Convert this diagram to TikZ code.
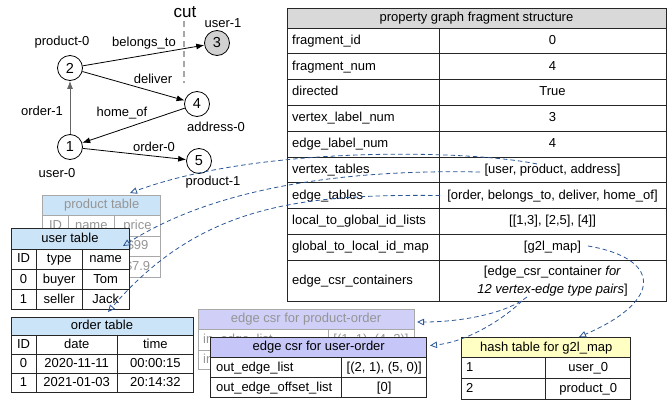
\documentclass[tikz,border=0pt]{standalone}
\usepackage{fontspec}
\setmainfont{Liberation Sans}
\usetikzlibrary{arrows.meta}

\definecolor{hdrgray}{HTML}{D9D9D9}
\definecolor{hdrblue}{HTML}{CCE4F7}
\definecolor{hdrpurple}{HTML}{C6C6F8}
\definecolor{hdrpurplefade}{HTML}{CFCFF8}
\definecolor{hdryellow}{HTML}{FFFFC4}
\definecolor{linkblue}{HTML}{2B5797}
\definecolor{fadeline}{HTML}{A8A8A8}
\definecolor{fadetext}{HTML}{959595}
\definecolor{rule}{HTML}{262626}

\tikzset{
  tbl/.style={draw=rule, line width=0.8pt},
  fadetbl/.style={draw=fadeline, line width=0.8pt},
  cell/.style={inner sep=0pt, font=\fontsize{13}{15}\selectfont, text height=9.4pt, text depth=2.6pt},
  fadecell/.style={cell, text=fadetext},
  lbl/.style={inner sep=0pt, font=\fontsize{13}{15}\selectfont},
  vtx/.style={circle, draw, line width=0.8pt, minimum size=25pt, inner sep=0pt,
              font=\fontsize{14.5}{16}\selectfont, fill=white},
  gedge/.style={-{Latex[length=8pt,width=6pt]}, line width=0.8pt},
  link/.style={draw=linkblue, dash pattern=on 4.5pt off 3pt, line width=0.8pt,
               -{Triangle[open, length=7pt, width=6.5pt]}},
}

\begin{document}
\begin{tikzpicture}[x=1pt,y=-1pt]
\useasboundingbox (0,0) rectangle (672,402);

% ---------------- property graph ----------------
\node[vtx] (v1) at (70,147) {1};
\node[vtx] (v2) at (70,68) {2};
\node[vtx, fill=black!18] (v3) at (217,43) {3};
\node[vtx] (v4) at (197,104) {4};
\node[vtx] (v5) at (199,161) {5};

\node[lbl] (lp0) at (62,42) {product-0};
\node[lbl] (lu1) at (223,23) {user-1};
\node[lbl] (la0) at (216,127) {address-0};
\node[lbl] (lu0) at (57,173) {user-0};
\node[lbl] (lp1) at (213,182) {product-1};

\draw[gedge, draw=black!60, color=black!60] (v1) -- (v2);
\draw[gedge] (v2) -- (v3);
\draw[gedge] (v2) -- (v4);
\draw[gedge] (v4) -- (v1);
\draw[gedge] (v1) -- (v5);

\node[lbl] (eo1) at (42,111) {order-1};
\node[lbl] (ebt) at (144,43) {belongs\_to};
\node[lbl] (edl) at (153,79) {deliver};
\node[lbl] (eho) at (122,113) {home\_of};
\node[lbl] (eo0) at (154,147) {order-0};

% partition cut
\node[inner sep=0pt, font=\fontsize{17}{19}\selectfont] (cutlbl) at (185,12) {cut};
\coordinate (cuttop) at (184,21);
\coordinate (cutbot) at (184,83);
\draw[black!35, line width=1.6pt, dash pattern=on 6pt off 4pt] (cuttop) -- (cutbot);

% ---------------- fragment structure table ----------------
\filldraw[fill=hdrgray, tbl] (287,8) rectangle (666,28);
\draw[tbl] (287,28) rectangle (666,301.5);
\foreach \y in {53.8,79.6,105.4,131.2,157,182.8,208.6,234.4,260.2}
  \draw[tbl] (287,\y) -- (666,\y);
\draw[tbl] (439,28) -- (439,301.5);

\node[cell] (fhead) at (476.5,18) {property graph fragment structure};
\node[cell, anchor=west] (k1) at (292,40.9) {fragment\_id};
\node[cell] (w1) at (552.5,40.9) {0};
\node[cell, anchor=west] (k2) at (292,66.7) {fragment\_num};
\node[cell] (w2) at (552.5,66.7) {4};
\node[cell, anchor=west] (k3) at (292,92.5) {directed};
\node[cell] (w3) at (552.5,92.5) {True};
\node[cell, anchor=west] (k4) at (292,118.3) {vertex\_label\_num};
\node[cell] (w4) at (552.5,118.3) {3};
\node[cell, anchor=west] (k5) at (292,144.1) {edge\_label\_num};
\node[cell] (w5) at (552.5,144.1) {4};
\node[cell, anchor=west] (k6) at (292,169.9) {vertex\_tables};
\node[cell] (w6) at (552.5,169.9) {[user, product, address]};
\node[cell, anchor=west] (k7) at (292,195.7) {edge\_tables};
\node[cell] (w7) at (552.5,195.7) {[order, belongs\_to, deliver, home\_of]};
\node[cell, anchor=west] (k8) at (292,221.5) {local\_to\_global\_id\_lists};
\node[cell] (w8) at (552.5,221.5) {[[1,3], [2,5], [4]]};
\node[cell, anchor=west] (k9) at (292,247.3) {global\_to\_local\_id\_map};
\node[cell] (w9) at (552.5,247.3) {[g2l\_map]};
\node[cell, anchor=west] (k10) at (292,280.8) {edge\_csr\_containers};
\node[inner sep=0pt, align=center, font=\fontsize{13}{17.3}\selectfont] (w10) at (552.5,281.2)
  {[edge\_csr\_container \textit{for}\\\textit{12 vertex-edge type pairs}]};

% ---------------- product table (behind) ----------------
\filldraw[fill=hdrblue, fadetbl] (42.7,195) rectangle (160.7,215);
\draw[fadetbl] (42.7,215) rectangle (160.7,277);
\draw[fadetbl] (42.7,236) -- (160.7,236);
\draw[fadetbl] (42.7,256.5) -- (160.7,256.5);
\draw[fadetbl] (68.3,215) -- (68.3,277);
\draw[fadetbl] (114.3,215) -- (114.3,277);
\node[fadecell] (pth) at (101.7,205.3) {product table};
\node[fadecell] (pt11) at (55.5,225.8) {ID};
\node[fadecell] (pt12) at (91.3,225.8) {name};
\node[fadecell] (pt13) at (137.5,225.8) {price};
\node[fadecell] (pt23) at (137.5,246.5) {\$99};
\node[fadecell] (pt33) at (137.5,267) {\$7.9};

% ---------------- user table ----------------
\filldraw[fill=white, tbl] (11,249) rectangle (129,309.5);
\filldraw[fill=hdrblue, tbl] (11,228.3) rectangle (129,249);
\draw[tbl] (11,269.5) -- (129,269.5);
\draw[tbl] (11,289.5) -- (129,289.5);
\draw[tbl] (36,249) -- (36,309.5);
\draw[tbl] (82.3,249) -- (82.3,309.5);
\node[cell] (uth) at (70,238.8) {user table};
\node[cell] (ut11) at (23.5,259.4) {ID};
\node[cell] (ut12) at (59.2,259.4) {type};
\node[cell] (ut13) at (105.7,259.4) {name};
\node[cell] (ut21) at (23.5,279.6) {0};
\node[cell] (ut22) at (59.2,279.6) {buyer};
\node[cell] (ut23) at (105.7,279.6) {Tom};
\node[cell] (ut31) at (23.5,299.6) {1};
\node[cell] (ut32) at (59.2,299.6) {seller};
\node[cell] (ut33) at (105.7,299.6) {Jack};

% ---------------- order table ----------------
\filldraw[fill=hdrblue, tbl] (11,317.3) rectangle (193.5,335.7);
\draw[tbl] (11,335.7) rectangle (193.5,392.7);
\draw[tbl] (11,354) -- (193.5,354);
\draw[tbl] (11,373.3) -- (193.5,373.3);
\draw[tbl] (36,335.7) -- (36,392.7);
\draw[tbl] (117.3,335.7) -- (117.3,392.7);
\node[cell] (oth) at (102,326.5) {order table};
\node[cell] (ot11) at (23.5,344.9) {ID};
\node[cell] (ot12) at (76.7,344.9) {date};
\node[cell] (ot13) at (155.4,344.9) {time};
\node[cell] (ot21) at (23.5,363.7) {0};
\node[cell] (ot22) at (76.7,363.7) {2020-11-11};
\node[cell] (ot23) at (155.4,363.7) {00:00:15};
\node[cell] (ot31) at (23.5,383) {1};
\node[cell] (ot32) at (76.7,383) {2021-01-03};
\node[cell] (ot33) at (155.4,383) {20:14:32};

% ---------------- edge csr for product-order (behind) ----------------
\filldraw[fill=hdrpurplefade, fadetbl] (198.3,309.3) rectangle (414,329.3);
\draw[fadetbl] (198.3,329.3) rectangle (414,369.3);
\draw[fadetbl] (198.3,350) -- (414,350);
\draw[fadetbl] (328.3,329.3) -- (328.3,369.3);
\node[fadecell] (poh) at (306,319.5) {edge csr for product-order};
\node[fadecell, anchor=west] (po11) at (203,339.8) {in\_edge\_list};
\node[fadecell] (po12) at (371,339.8) {[(1, 1), (4, 2)]};
\node[fadecell, anchor=west] (po21) at (203,359.8) {in\_edge\_offset\_list};

% ---------------- edge csr for user-order ----------------
\filldraw[fill=white, tbl] (210.7,357.3) rectangle (426.7,397.7);
\filldraw[fill=hdrpurple, tbl] (210.7,337.3) rectangle (426.7,357.3);
\draw[tbl] (210.7,377.7) -- (426.7,377.7);
\draw[tbl] (341.7,357.3) -- (341.7,397.7);
\node[cell] (uoh) at (318.7,347.5) {edge csr for user-order};
\node[cell, anchor=west] (uo11) at (216,367.7) {out\_edge\_list};
\node[cell] (uo12) at (384.2,367.7) {[(2, 1), (5, 0)]};
\node[cell, anchor=west] (uo21) at (216,387.9) {out\_edge\_offset\_list};
\node[cell] (uo22) at (384.2,387.9) {[0]};

% ---------------- hash table ----------------
\filldraw[fill=hdryellow, tbl] (461.7,337.7) rectangle (630.7,357.7);
\draw[tbl] (461.7,357.7) rectangle (630.7,399);
\draw[tbl] (461.7,378.3) -- (630.7,378.3);
\draw[tbl] (545.7,357.7) -- (545.7,399);
\node[cell] (hth) at (546.2,347.9) {hash table for g2l\_map};
\node[cell, anchor=west] (ht11) at (466,368.2) {1};
\node[cell] (ht12) at (588.2,368.2) {user\_0};
\node[cell, anchor=west] (ht21) at (466,388.8) {2};
\node[cell] (ht22) at (588.2,388.8) {product\_0};

% ---------------- references between structures ----------------
\coordinate (vtA) at (537,164);
\coordinate (vtB) at (480,172);
\coordinate (etC) at (440,195.5);
\coordinate (ecD1) at (527,297);
\coordinate (ecD2) at (522,301);
\coordinate (gmE) at (588,246);
\coordinate (ptIn) at (130,193);
\coordinate (utIn) at (123,246);
\coordinate (otIn) at (108,312);
\coordinate (poIn) at (417,322);
\coordinate (uoIn) at (430,345.5);
\coordinate (htIn) at (579,337);

\draw[link] (vtA) .. controls (470,150) and (260,145) .. (ptIn);
\draw[link] (vtB) .. controls (380,170) and (230,178) .. (utIn);
\draw[link] (etC) .. controls (300,194) and (200,205) .. (otIn);
\draw[link] (ecD1) .. controls (505,314) and (460,322) .. (poIn);
\draw[link] (ecD2) .. controls (500,322) and (465,342) .. (uoIn);
\draw[link] (gmE) .. controls (660,258) and (665,300) .. (htIn);
\end{tikzpicture}
\end{document}
